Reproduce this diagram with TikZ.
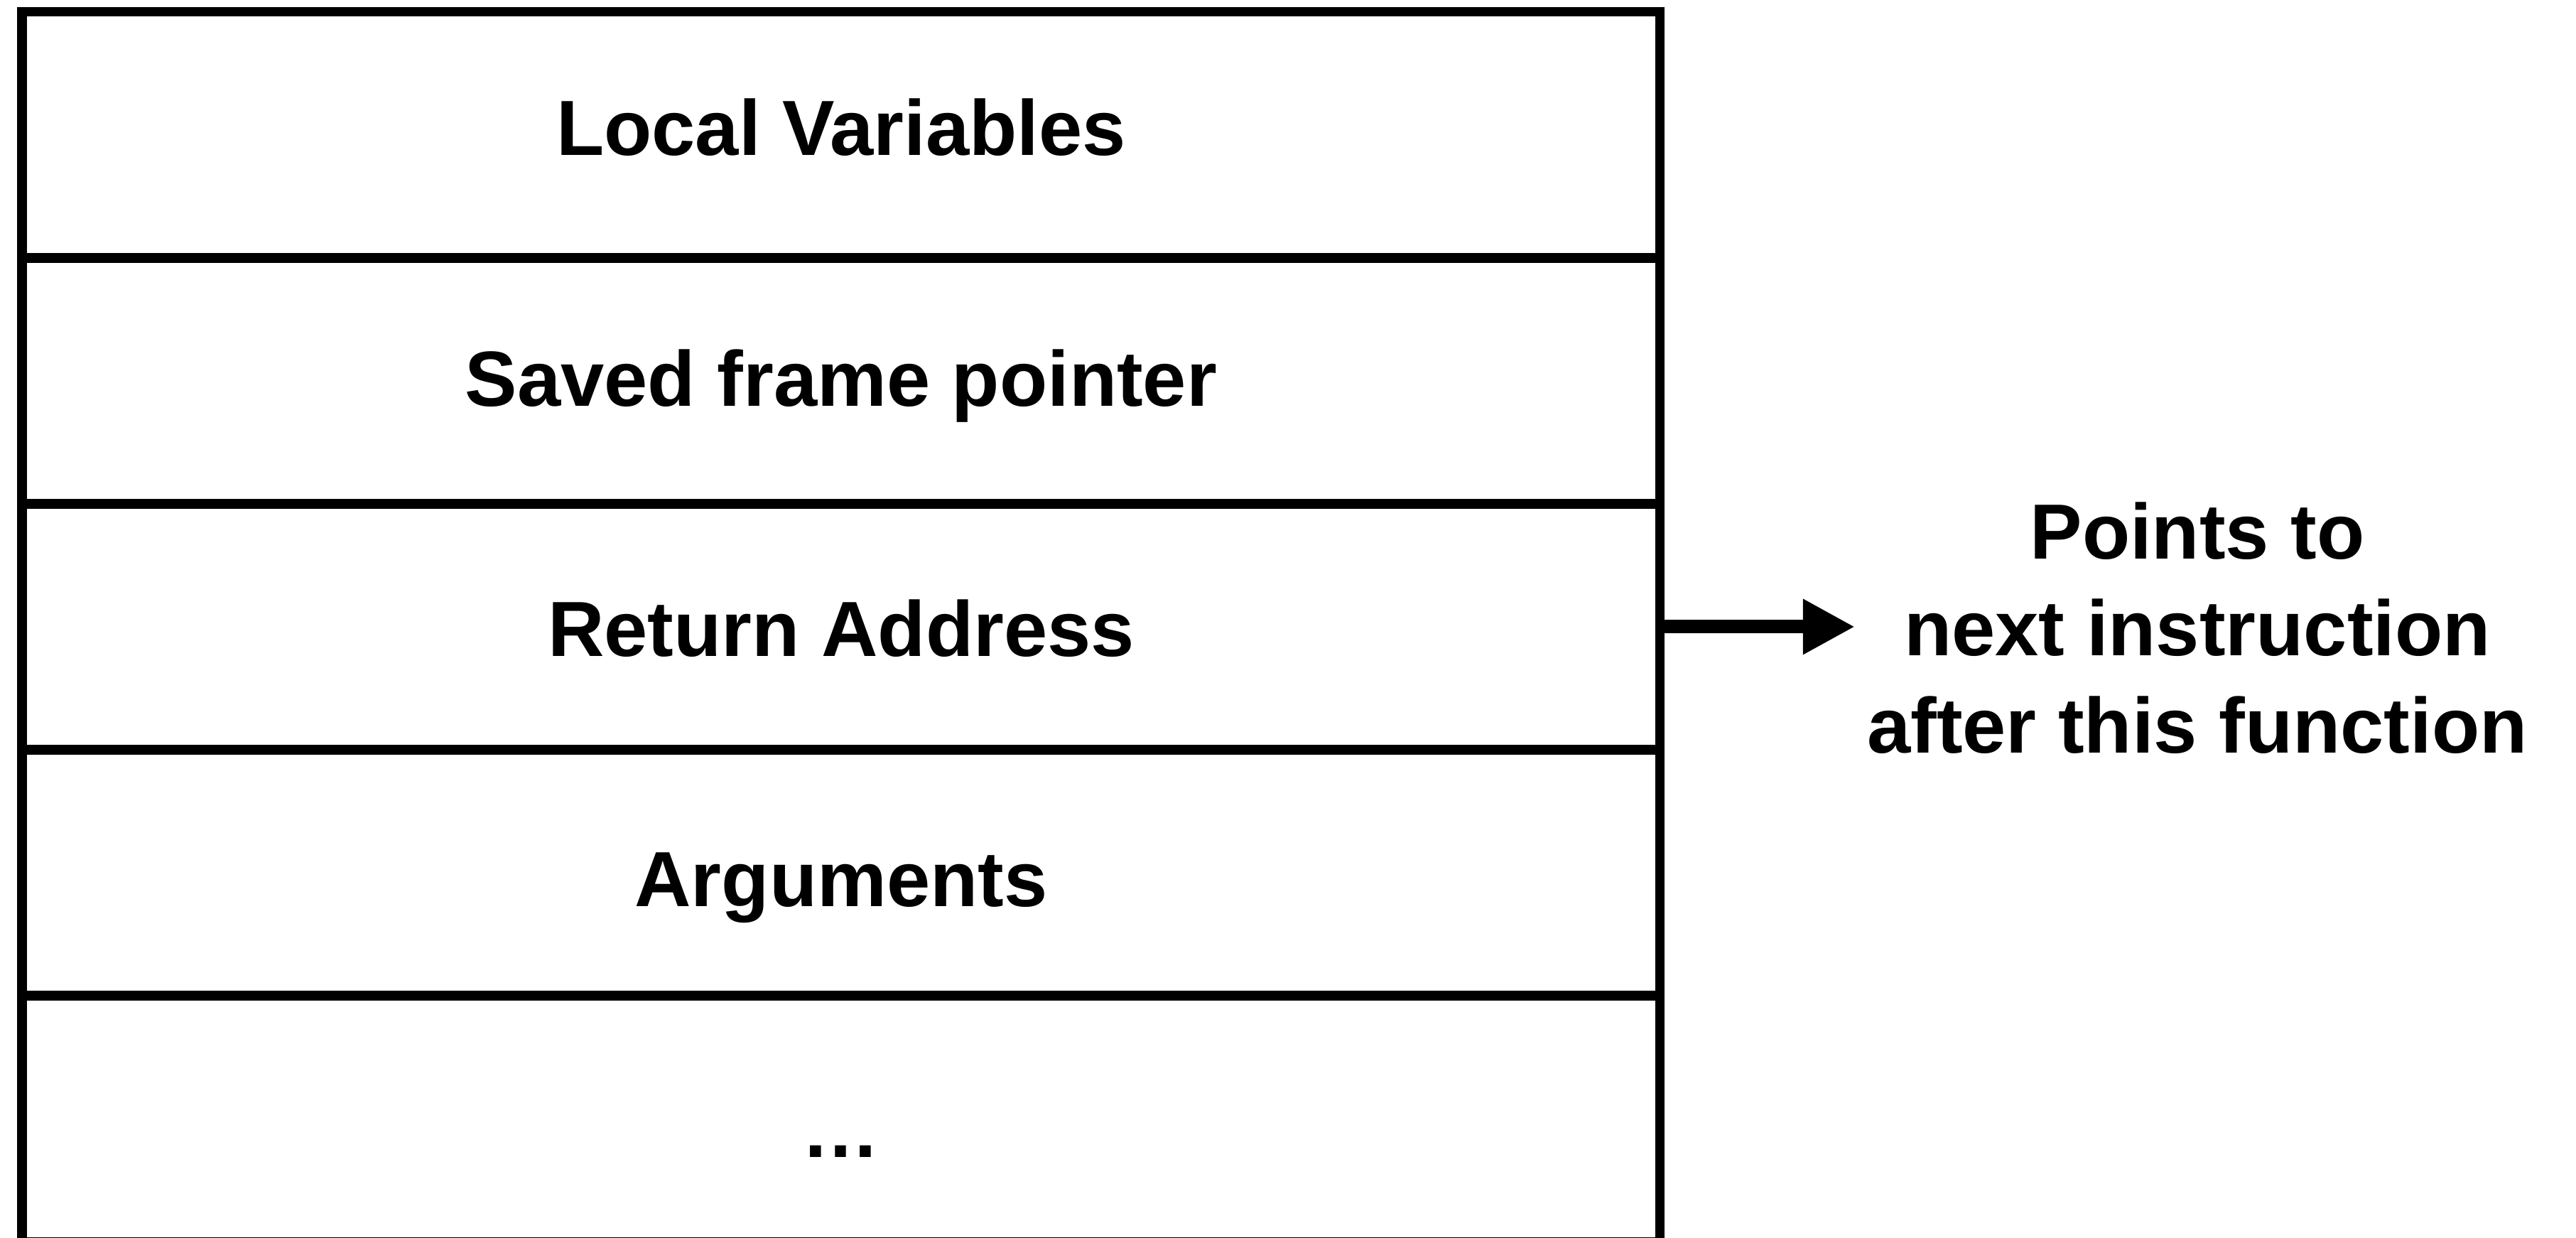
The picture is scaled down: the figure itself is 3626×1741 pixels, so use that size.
\documentclass[tikz,border=0pt]{standalone}
\usepackage{fontspec}
\setmainfont{Liberation Sans}
\usetikzlibrary{arrows.meta}
\begin{document}
\begin{tikzpicture}[x=0.01cm,y=-0.01cm,
  rowbox/.style={draw=black, line width=0.135cm, minimum width=23.045cm, minimum height=3.462cm, inner sep=0pt, outer sep=0pt},
  lbl/.style={anchor=base, inner sep=0pt, font=\fontsize{31.3pt}{38.7pt}\selectfont\bfseries},
  pointer/.style={line width=0.19cm, -{Triangle[length=0.73cm, width=0.73cm]}}
]
\useasboundingbox (0,0) rectangle (3626,1741);
\node[rowbox] (r1) at (1183.75,189.6) {};
\node[rowbox] (r2) at (1183.75,535.6) {};
\node[rowbox] (r3) at (1183.75,881.9) {};
\node[rowbox] (r4) at (1183.75,1228.1) {};
\node[rowbox] (r5) at (1183.75,1574.3) {};
\node[lbl] (t1) at (1184,218) {Local Variables};
\node[lbl] (t2) at (1184,571) {Saved frame pointer};
\node[lbl] (t3) at (1184,923) {Return Address};
\node[lbl] (t4) at (1184,1275) {Arguments};
\node[lbl] (t5) at (1184,1628) {…};
\node[lbl, align=center] (note) at (3093,1059) {Points to\\next instruction\\after this function};
\coordinate (tip) at (2611,881.9);
\draw[pointer] (r3.east) -- (tip);
\end{tikzpicture}
\end{document}
